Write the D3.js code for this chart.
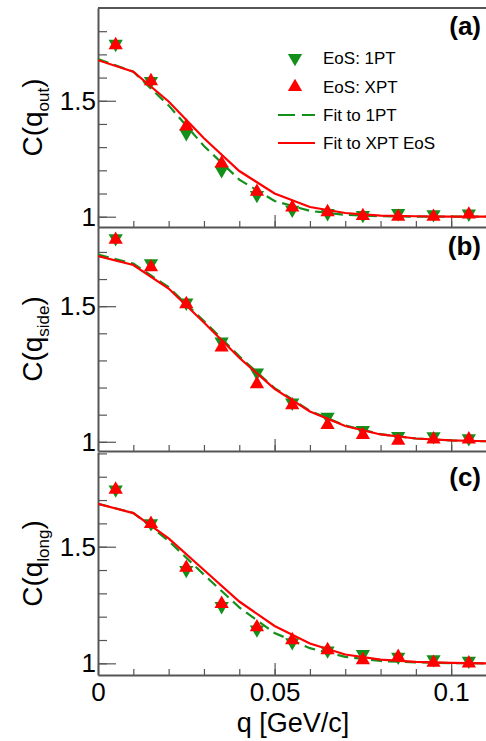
<!DOCTYPE html>
<html>
<head>
<meta charset="utf-8">
<script src="https://cdn.jsdelivr.net/npm/d3@7"></script>
<style>
  body { margin: 0; background: #fff; }
  text { font-family: "Liberation Sans", Arial, sans-serif; }
</style>
</head>
<body>
<div id="chart"></div>
<script>
// bin centres of the simulated correlation points
var qBins = [0.005, 0.015, 0.025, 0.035, 0.045, 0.055, 0.065, 0.075, 0.085, 0.095, 0.105];

var outPts1PT = [1.745, 1.585, 1.36, 1.20, 1.093, 1.03, 1.015, 1.007, 1.015, 1.01, 1.013];
var outPtsXPT = [1.74, 1.585, 1.39, 1.23, 1.108, 1.04, 1.02, 1.003, 1.0, 1.0, 1.01];
var sidePts1PT = [1.75, 1.658, 1.513, 1.369, 1.255, 1.144, 1.092, 1.043, 1.021, 1.02, 1.013];
var sidePtsXPT = [1.745, 1.644, 1.508, 1.348, 1.213, 1.135, 1.062, 1.025, 1.004, 1.009, 1.009];
var longPts1PT = [1.745, 1.60, 1.40, 1.245, 1.145, 1.09, 1.055, 1.04, 1.028, 1.017, 1.011];
var longPtsXPT = [1.745, 1.598, 1.41, 1.255, 1.155, 1.10, 1.057, 1.014, 1.028, 1.003, 1.0];

// fit curves read at q = 0, 0.01, ... 0.11
var qFit = [0, 0.01, 0.02, 0.03, 0.04, 0.05, 0.06, 0.07, 0.08, 0.09, 0.10, 0.11];
var outFit1PT = [1.68, 1.625, 1.48, 1.305, 1.16, 1.068, 1.025, 1.008, 1.002, 1.0, 1.0, 1.0];
var outFitXPT = [1.675, 1.625, 1.497, 1.338, 1.197, 1.10, 1.042, 1.016, 1.005, 1.002, 1.0, 1.0];
var sideFit1PT = [1.69, 1.657, 1.57, 1.445, 1.315, 1.198, 1.114, 1.06, 1.028, 1.012, 1.005, 1.002];
var sideFitXPT = [1.685, 1.652, 1.565, 1.44, 1.31, 1.195, 1.112, 1.058, 1.027, 1.012, 1.005, 1.002];
var longFit1PT = [1.684, 1.645, 1.525, 1.38, 1.24, 1.13, 1.065, 1.028, 1.01, 1.004, 1.001, 1.0];
var longFitXPT = [1.684, 1.644, 1.536, 1.40, 1.265, 1.16, 1.085, 1.038, 1.016, 1.006, 1.002, 1.0];

var xTicks = [0, 0.05, 0.1];
var yTicks = [1, 1.5];
var legendLabels = ["EoS: 1PT", "EoS: XPT", "Fit to 1PT", "Fit to XPT EoS"];

var svgWidth = 486;
var svgHeight = 741;
var green = "#13901a";
var red = "#ff0000";
var axisColor = "#555";

var svg = d3.select("#chart")
  .append("svg")
  .attr("width", svgWidth)
  .attr("height", svgHeight);

var left = 98;
var xScale = d3.scaleLinear().domain([0, 0.11]).range([left, 486.5]);

var panels = [
  { label: "(a)", sub: "out", top: 8, bottom: 227, domain: [0.9556, 1.9],
    pts1: outPts1PT, ptsX: outPtsXPT, fit1: outFit1PT, fitX: outFitXPT, labelY: 35 },
  { label: "(b)", sub: "side", top: 227, bottom: 451, domain: [0.966, 1.792],
    pts1: sidePts1PT, ptsX: sidePtsXPT, fit1: sideFit1PT, fitX: sideFitXPT, labelY: 255 },
  { label: "(c)", sub: "long", top: 452, bottom: 675, domain: [0.95, 1.906],
    pts1: longPts1PT, ptsX: longPtsXPT, fit1: longFit1PT, fitX: longFitXPT, labelY: 486 }
];

var triUp = d3.symbol().type(d3.symbolTriangle).size(88);

panels.forEach(function(p, i) {
  var yScale = d3.scaleLinear().domain(p.domain).range([p.bottom, p.top]);
  var g = svg.append("g");

  // clip region for the fit curves
  g.append("clipPath").attr("id", "clip" + i)
    .append("rect")
    .attr("x", left).attr("y", p.top)
    .attr("width", svgWidth - left).attr("height", p.bottom - p.top);

  // minor y ticks
  g.append("g")
    .attr("transform", `translate(${left},0)`)
    .call(d3.axisLeft(yScale).tickValues(d3.range(1, p.domain[1], 0.1)).tickSize(-9).tickFormat(""))
    .call(a => a.select(".domain").remove())
    .selectAll("line").attr("stroke", axisColor).attr("stroke-width", 1.2);

  // major y ticks + labels
  var yAxis = g.append("g")
    .attr("transform", `translate(${left},0)`)
    .call(d3.axisLeft(yScale).tickValues(yTicks).tickSize(-18).tickPadding(2).tickSizeOuter(0)
      .tickFormat(d3.format("")));
  yAxis.select(".domain").attr("stroke", axisColor).attr("stroke-width", 2);
  yAxis.selectAll("line").attr("stroke", axisColor).attr("stroke-width", 1.2);
  yAxis.selectAll("text").attr("font-size", 26).attr("fill", "#000")
    .attr("font-family", "Liberation Sans, Arial, sans-serif");

  // bottom axis, minor then major
  g.append("g")
    .attr("transform", `translate(0,${p.bottom})`)
    .call(d3.axisBottom(xScale).tickValues(d3.range(0.01, 0.11, 0.01)).tickSize(-6).tickFormat(""))
    .call(a => a.select(".domain").remove())
    .selectAll("line").attr("stroke", axisColor).attr("stroke-width", 1.2);

  var xAxis = g.append("g")
    .attr("transform", `translate(0,${p.bottom})`)
    .call(d3.axisBottom(xScale).tickValues(xTicks).tickSize(-12).tickSizeOuter(0).tickPadding(8)
      .tickFormat(i === 2 ? d3.format("") : ""));
  xAxis.select(".domain").attr("stroke", axisColor).attr("stroke-width", 2);
  xAxis.selectAll("line").attr("stroke", axisColor).attr("stroke-width", 1.2);
  xAxis.selectAll("text").attr("font-size", 26).attr("fill", "#000")
    .attr("font-family", "Liberation Sans, Arial, sans-serif");

  if (i === 0) {
    g.append("line")
      .attr("x1", left).attr("x2", svgWidth)
      .attr("y1", p.top).attr("y2", p.top)
      .attr("stroke", axisColor).attr("stroke-width", 2);
  }

  // y title
  var title = g.append("text")
    .attr("transform", `translate(42,${(p.top + p.bottom) / 2}) rotate(-90)`)
    .attr("text-anchor", "middle")
    .attr("font-size", 28);
  title.append("tspan").text("C(q");
  title.append("tspan").attr("font-size", 17).attr("dy", 7).text(p.sub);
  title.append("tspan").attr("dy", -7).text(")");

  // panel label
  g.append("text")
    .attr("x", 481).attr("y", p.labelY)
    .attr("text-anchor", "end")
    .attr("font-size", 26)
    .attr("font-weight", "bold")
    .text(p.label);

  // green markers
  g.selectAll(".m1")
    .data(qBins.map((q, k) => [q, p.pts1[k]]))
    .enter()
    .append("path")
    .attr("d", triUp)
    .attr("transform", d => `translate(${xScale(d[0])},${yScale(d[1])}) rotate(180)`)
    .attr("fill", green);

  // fit curves
  var line = d3.line()
    .x(d => xScale(d[0]))
    .y(d => yScale(d[1]));

  g.append("path")
    .datum(qFit.map((q, k) => [q, p.fit1[k]]))
    .attr("clip-path", `url(#clip${i})`)
    .attr("d", line)
    .attr("fill", "none")
    .attr("stroke", green)
    .attr("stroke-width", 2.2)
    .attr("stroke-dasharray", "11,6");

  g.append("path")
    .datum(qFit.map((q, k) => [q, p.fitX[k]]))
    .attr("clip-path", `url(#clip${i})`)
    .attr("d", line)
    .attr("fill", "none")
    .attr("stroke", red)
    .attr("stroke-width", 2.2);

  // red markers
  g.selectAll(".mx")
    .data(qBins.map((q, k) => [q, p.ptsX[k]]))
    .enter()
    .append("path")
    .attr("d", triUp)
    .attr("transform", d => `translate(${xScale(d[0])},${yScale(d[1])})`)
    .attr("fill", red);
});

// x title
svg.append("text")
  .attr("x", 293).attr("y", 732)
  .attr("text-anchor", "middle")
  .attr("font-size", 27)
  .text("q [GeV/c]");

// legend
var legend = svg.append("g");
var rowsY = [58, 87, 115, 143];

legend.append("path").attr("d", triUp)
  .attr("transform", `translate(295,${rowsY[0]}) rotate(180)`).attr("fill", green);
legend.append("path").attr("d", triUp)
  .attr("transform", `translate(295,${rowsY[1]})`).attr("fill", red);
legend.append("line")
  .attr("x1", 278).attr("x2", 315).attr("y1", rowsY[2]).attr("y2", rowsY[2])
  .attr("stroke", green).attr("stroke-width", 2.2).attr("stroke-dasharray", "17,7");
legend.append("line")
  .attr("x1", 278).attr("x2", 315).attr("y1", rowsY[3]).attr("y2", rowsY[3])
  .attr("stroke", red).attr("stroke-width", 2.2);

legend.selectAll(".lt")
  .data(legendLabels)
  .enter()
  .append("text")
  .attr("x", 323)
  .attr("y", (d, k) => rowsY[k] + 6)
  .attr("font-size", 17)
  .text(d => d);
</script>
</body>
</html>
